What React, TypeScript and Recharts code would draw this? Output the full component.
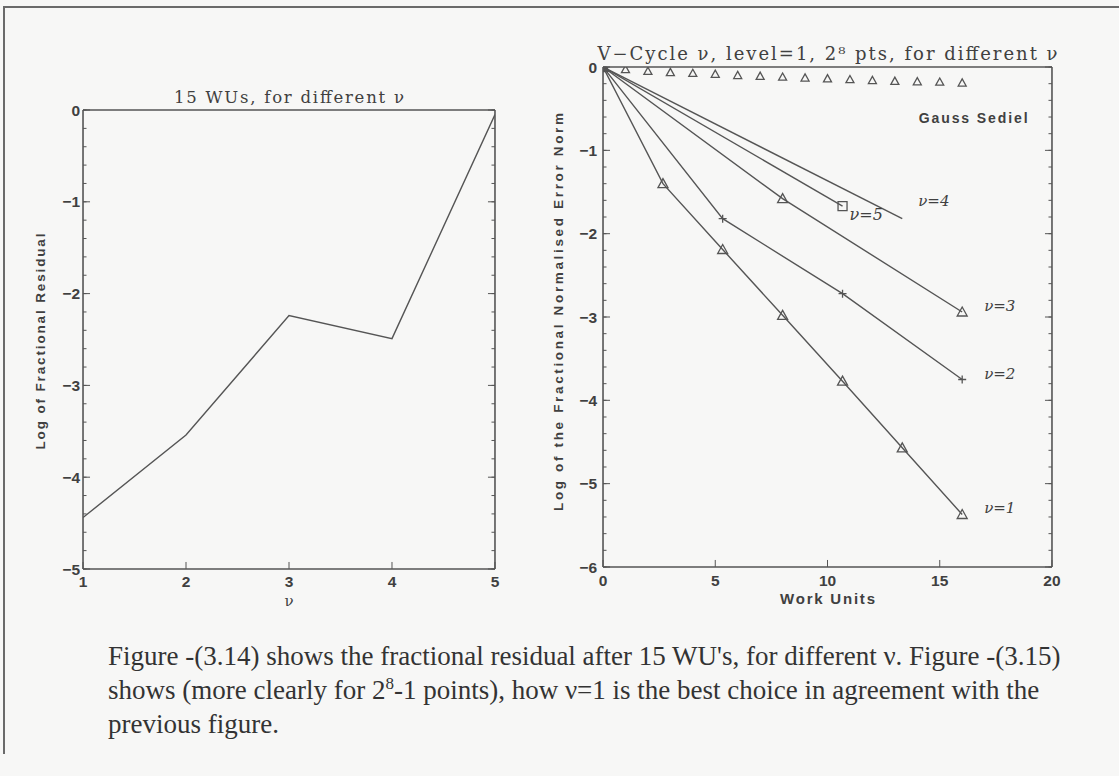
import React from 'react';
import { ComposedChart, Line, XAxis, YAxis, Label } from 'recharts';

const INK = '#555555';
const TEXT = '#404040';
const PAPER = '#f7f7f6';
const SANS = '"Liberation Sans", Arial, sans-serif';
const SERIF = '"DejaVu Serif", serif';
const TIMES = '"Liberation Serif", "Times New Roman", serif';

// Fig 3.14 - log of fractional residual after 15 WUs, per nu
const nuValues = [1, 2, 3, 4, 5];
const residual15 = [-4.44, -3.54, -2.24, -2.49, -0.05];

// Fig 3.15 - error norm vs work units, V-cycles with different nu
const wuNu1 = [0, 2.67, 5.33, 8, 10.67, 13.33, 16];
const errNu1 = [0, -1.4, -2.19, -2.98, -3.77, -4.57, -5.37];
const wuNu2 = [0, 5.33, 10.67, 16];
const errNu2 = [0, -1.82, -2.72, -3.75];
const wuNu3 = [0, 8, 16];
const errNu3 = [0, -1.58, -2.94];
const wuNu4 = [0, 13.33];
const errNu4 = [0, -1.82];
const wuNu5 = [0, 10.67];
const errNu5 = [0, -1.67];
const wuGauss = [0, 1, 2, 3, 4, 5, 6, 7, 8, 9, 10, 11, 12, 13, 14, 15, 16];
const errGauss = [0, -0.03, -0.05, -0.065, -0.075, -0.085, -0.1, -0.11, -0.12, -0.13, -0.14, -0.15, -0.16, -0.17, -0.175, -0.18, -0.19];

const leftXTicks = [1, 2, 3, 4, 5];
const leftYTicks = [0, -1, -2, -3, -4, -5];
const rightXTicks = [0, 5, 10, 15, 20];
const rightYTicks = [0, -1, -2, -3, -4, -5, -6];

const zip = (xs: number[], ys: number[]) => xs.map((x, i) => ({ x, y: ys[i] }));

// minor tick positions along an axis
const steps = (from: number, to: number, step: number) => {
  const out: number[] = [];
  for (let i = 0; from + i * step <= to + 1e-9; i++) out.push(+(from + i * step).toFixed(4));
  return out;
};

const fmt = (v: number) => (v < 0 ? `\u2212${Math.abs(v)}` : `${v}`);
const blank = () => '';
const edge = { stroke: INK, strokeWidth: 1.6 };
const fine = { stroke: INK, strokeWidth: 1 };
const THIN = 0.01; // axes need a non-zero size to be drawn

const TickX = (props: any) => {
  const { x, y, payload } = props;
  return (
    <text x={x} y={y} dy="0.72em" textAnchor="middle" fontFamily={SANS} fontWeight={700} fontSize={15.5} fill={TEXT}>
      {fmt(payload.value)}
    </text>
  );
};

const TickY = (props: any) => {
  const { x, y, payload } = props;
  return (
    <text x={x} y={y} dy="0.36em" textAnchor="end" fontFamily={SANS} fontWeight={700} fontSize={15.5} fill={TEXT}>
      {fmt(payload.value)}
    </text>
  );
};

const PlotTitle = (props: any) => {
  const { viewBox, caption, size, len } = props;
  if (!viewBox) return null;
  return (
    <text x={viewBox.x + viewBox.width / 2} y={viewBox.y - 7} textAnchor="middle" fontFamily={SERIF}
      fontSize={size} fill={TEXT} textLength={len} lengthAdjust="spacing">
      {caption}
    </text>
  );
};

const XTitle = (props: any) => {
  const { viewBox, caption, below, size, len, font, weight } = props;
  if (!viewBox) return null;
  return (
    <text x={viewBox.x + viewBox.width / 2} y={viewBox.y + below} textAnchor="middle"
      fontFamily={font} fontWeight={weight} fontSize={size} fill={TEXT} textLength={len} lengthAdjust="spacing">
      {caption}
    </text>
  );
};

const YTitle = (props: any) => {
  const { viewBox, caption, left, shift, len } = props;
  if (!viewBox) return null;
  const x = viewBox.x + viewBox.width - left;
  const y = viewBox.y + viewBox.height / 2 + shift;
  return (
    <text transform={`rotate(-90 ${x} ${y})`} x={x} y={y} dy="0.35em" textAnchor="middle" fontFamily={SANS}
      fontWeight={700} fontSize={13.5} fill={TEXT} textLength={len} lengthAdjust="spacing">
      {caption}
    </text>
  );
};

interface Frame {
  xDomain: [number, number];
  yDomain: [number, number];
  xTicks: number[];
  yTicks: number[];
  xMinor: number[];
  yMinor: number[];
  xGap: number;
  yGap: number;
  title: React.ReactElement;
  xTitle: React.ReactElement;
  yTitle: React.ReactElement;
}

// IDL style box: inward major + minor ticks on all four sides
const frameAxes = (f: Frame) => [
  <XAxis key="x" xAxisId="x" dataKey="x" type="number" domain={f.xDomain} ticks={f.xTicks} interval={0} height={THIN}
    allowDataOverflow axisLine={edge} tickLine={fine} tickSize={-7} tickMargin={7 + f.xGap} tick={<TickX />}>
    {f.xTitle}
  </XAxis>,
  <XAxis key="xm" xAxisId="xm" type="number" domain={f.xDomain} ticks={f.xMinor} interval={0} height={THIN}
    allowDataOverflow axisLine={false} tickLine={fine} tickSize={-3.5} tickFormatter={blank} />,
  <XAxis key="t" xAxisId="t" orientation="top" type="number" domain={f.xDomain} ticks={f.xTicks} interval={0}
    height={THIN} allowDataOverflow axisLine={edge} tickLine={fine} tickSize={-7} tickFormatter={blank}>
    {f.title}
  </XAxis>,
  <XAxis key="tm" xAxisId="tm" orientation="top" type="number" domain={f.xDomain} ticks={f.xMinor} interval={0}
    height={THIN} allowDataOverflow axisLine={false} tickLine={fine} tickSize={-3.5} tickFormatter={blank} />,
  <YAxis key="y" yAxisId="y" type="number" domain={f.yDomain} ticks={f.yTicks} interval={0} width={THIN}
    allowDataOverflow axisLine={edge} tickLine={fine} tickSize={-7} tickMargin={7 + f.yGap} tick={<TickY />}>
    {f.yTitle}
  </YAxis>,
  <YAxis key="ym" yAxisId="ym" type="number" domain={f.yDomain} ticks={f.yMinor} interval={0} width={THIN}
    allowDataOverflow axisLine={false} tickLine={fine} tickSize={-3.5} tickFormatter={blank} />,
  <YAxis key="r" yAxisId="r" orientation="right" type="number" domain={f.yDomain} ticks={f.yTicks} interval={0}
    width={THIN} allowDataOverflow axisLine={edge} tickLine={fine} tickSize={-7} tickFormatter={blank} />,
  <YAxis key="rm" yAxisId="rm" orientation="right" type="number" domain={f.yDomain} ticks={f.yMinor} interval={0}
    width={THIN} allowDataOverflow axisLine={false} tickLine={fine} tickSize={-3.5} tickFormatter={blank} />,
];

const markerPath = (kind: string, cx: number, cy: number, s: number) => {
  if (kind === 'triangle') return `M${cx},${cy - s}L${cx + s},${cy + s * 0.8}L${cx - s},${cy + s * 0.8}Z`;
  if (kind === 'square') return `M${cx - s},${cy - s}h${2 * s}v${2 * s}h${-2 * s}Z`;
  return `M${cx - s},${cy}h${2 * s}M${cx},${cy - s}v${2 * s}`;
};

interface EndNote {
  text: string;
  dx: number;
  dy: number;
  anchor?: string;
  font?: string;
  size?: number;
  weight?: number;
  len?: number;
}

const dotRenderer = (kind: string | null, size: number, lastIndex: number, note?: EndNote) => (props: any) => {
  const { cx, cy, index } = props;
  if (cx == null || cy == null) return <g key={`d${index}`} />;
  return (
    <g key={`d${index}`}>
      {kind && <path d={markerPath(kind, cx, cy, size)} fill="none" stroke={INK} strokeWidth={1.3} />}
      {note && index === lastIndex && (
        <text x={cx + note.dx} y={cy + note.dy} textAnchor={note.anchor ?? 'start'} fontFamily={note.font ?? SERIF}
          fontStyle={note.font ? 'normal' : 'italic'} fontWeight={note.weight ?? 400} fontSize={note.size ?? 15}
          fill={TEXT} textLength={note.len} lengthAdjust={note.len ? 'spacing' : undefined}>
          {note.text}
        </text>
      )}
    </g>
  );
};

export default function App() {
  return (
    <div style={{ position: 'absolute', left: 0, top: 0, width: 1119, height: 776, background: PAPER, overflow: 'hidden' }}>
      <div style={{ position: 'absolute', left: 3, top: 6, width: 1116, height: 2, background: '#6a6a6a' }} />
      <div style={{ position: 'absolute', left: 3, top: 6, width: 2, height: 748, background: '#6a6a6a' }} />

      <div style={{ position: 'absolute', left: 0, top: 0 }}>
        <ComposedChart width={520} height={640} margin={{ top: 110, right: 25, bottom: 71, left: 83 }}>
          {frameAxes({
            xDomain: [1, 5],
            yDomain: [-5, 0],
            xTicks: leftXTicks,
            yTicks: leftYTicks,
            xMinor: steps(1, 5, 0.1),
            yMinor: steps(-5, 0, 0.2),
            xGap: 7,
            yGap: 3,
            title: <Label content={<PlotTitle caption="15 WUs, for different ν" size={16.5} len={230} />} />,
            xTitle: <Label content={<XTitle caption="ν" below={37} size={15} font={SERIF} weight={400} />} />,
            yTitle: <Label content={<YTitle caption="Log of Fractional Residual" left={43} shift={2} len={216} />} />,
          })}
          <Line xAxisId="x" yAxisId="y" data={zip(nuValues, residual15)} dataKey="y" stroke={INK} strokeWidth={1.4}
            dot={false} isAnimationActive={false} />
        </ComposedChart>
      </div>

      <div style={{ position: 'absolute', left: 520, top: 0 }}>
        <ComposedChart width={599} height={640} margin={{ top: 67, right: 67, bottom: 73, left: 83 }}>
          {frameAxes({
            xDomain: [0, 20],
            yDomain: [-6, 0],
            xTicks: rightXTicks,
            yTicks: rightYTicks,
            xMinor: steps(0, 20, 1),
            yMinor: steps(-6, 0, 0.2),
            xGap: 8,
            yGap: 6,
            title: (
              <Label content={<PlotTitle caption="V−Cycle ν, level=1, 2⁸ pts, for different ν" size={18} len={460} />} />
            ),
            xTitle: <Label content={<XTitle caption="Work Units" below={37} size={15} font={SANS} weight={700} len={95} />} />,
            yTitle: (
              <Label content={<YTitle caption="Log of the Fractional Normalised Error Norm" left={45} shift={-5} len={398} />} />
            ),
          })}
          <Line xAxisId="x" yAxisId="y" data={zip(wuGauss, errGauss)} dataKey="y" stroke="none" isAnimationActive={false}
            dot={dotRenderer('triangle', 4, wuGauss.length - 1, {
              text: 'Gauss Sediel', dx: 11, dy: 40, anchor: 'middle', font: SANS, weight: 700, size: 14, len: 109,
            })} />
          <Line xAxisId="x" yAxisId="y" data={zip(wuNu1, errNu1)} dataKey="y" stroke={INK} strokeWidth={1.4}
            isAnimationActive={false} dot={dotRenderer('triangle', 5, wuNu1.length - 1, { text: 'ν=1', dx: 22, dy: -1 })} />
          <Line xAxisId="x" yAxisId="y" data={zip(wuNu2, errNu2)} dataKey="y" stroke={INK} strokeWidth={1.4}
            isAnimationActive={false} dot={dotRenderer('plus', 4, wuNu2.length - 1, { text: 'ν=2', dx: 22, dy: 0 })} />
          <Line xAxisId="x" yAxisId="y" data={zip(wuNu3, errNu3)} dataKey="y" stroke={INK} strokeWidth={1.4}
            isAnimationActive={false} dot={dotRenderer('triangle', 5, wuNu3.length - 1, { text: 'ν=3', dx: 22, dy: -1 })} />
          <Line xAxisId="x" yAxisId="y" data={zip(wuNu4, errNu4)} dataKey="y" stroke={INK} strokeWidth={1.4}
            isAnimationActive={false} dot={dotRenderer(null, 0, wuNu4.length - 1, { text: 'ν=4', dx: 16, dy: -13 })} />
          <Line xAxisId="x" yAxisId="y" data={zip(wuNu5, errNu5)} dataKey="y" stroke={INK} strokeWidth={1.4}
            isAnimationActive={false}
            dot={dotRenderer('square', 4.5, wuNu5.length - 1, { text: 'ν=5', dx: 7, dy: 14, size: 16 })} />
        </ComposedChart>
      </div>

      <div style={{ position: 'absolute', left: 108, top: 639, fontFamily: TIMES, fontSize: 27, lineHeight: '34px', color: '#333', whiteSpace: 'nowrap' }}>
        Figure -(3.14) shows the fractional residual after 15 WU's, for different ν. Figure -(3.15)
        <br />
        shows (more clearly for 2<sup style={{ fontSize: 17, lineHeight: 0 }}>8</sup>-1 points), how ν=1 is the best choice in agreement with the
        <br />
        previous figure.
      </div>
    </div>
  );
}
